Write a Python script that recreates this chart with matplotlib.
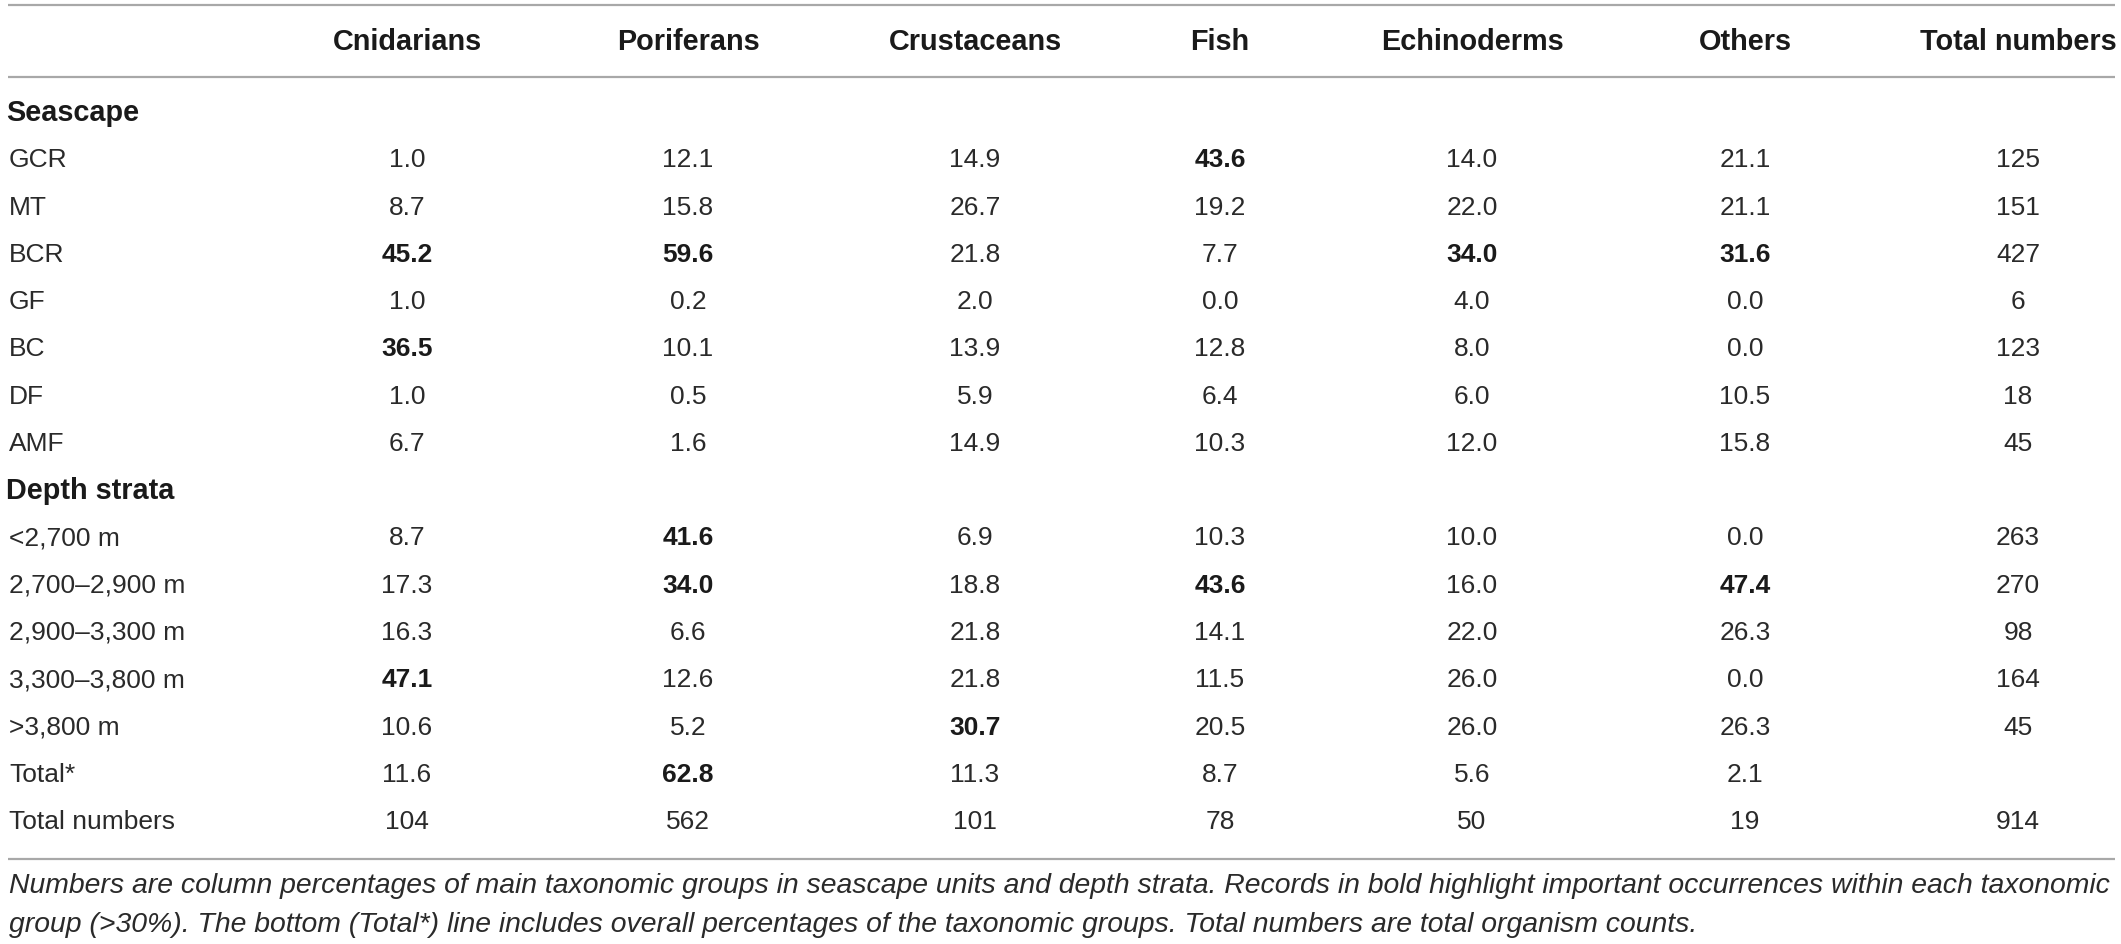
import matplotlib
matplotlib.use('Agg')
import matplotlib.pyplot as plt

# ---------------------------------------------------------------- data
columns = ['Cnidarians', 'Poriferans', 'Crustaceans', 'Fish',
           'Echinoderms', 'Others', 'Total numbers']

seascape_rows = ['GCR', 'MT', 'BCR', 'GF', 'BC', 'DF', 'AMF']
seascape_vals = [
    ['1.0', '12.1', '14.9', '43.6', '14.0', '21.1', '125'],
    ['8.7', '15.8', '26.7', '19.2', '22.0', '21.1', '151'],
    ['45.2', '59.6', '21.8', '7.7', '34.0', '31.6', '427'],
    ['1.0', '0.2', '2.0', '0.0', '4.0', '0.0', '6'],
    ['36.5', '10.1', '13.9', '12.8', '8.0', '0.0', '123'],
    ['1.0', '0.5', '5.9', '6.4', '6.0', '10.5', '18'],
    ['6.7', '1.6', '14.9', '10.3', '12.0', '15.8', '45'],
]
depth_rows = ['<2,700 m', '2,700\u20132,900 m', '2,900\u20133,300 m',
              '3,300\u20133,800 m', '>3,800 m', 'Total*', 'Total numbers']
depth_vals = [
    ['8.7', '41.6', '6.9', '10.3', '10.0', '0.0', '263'],
    ['17.3', '34.0', '18.8', '43.6', '16.0', '47.4', '270'],
    ['16.3', '6.6', '21.8', '14.1', '22.0', '26.3', '98'],
    ['47.1', '12.6', '21.8', '11.5', '26.0', '0.0', '164'],
    ['10.6', '5.2', '30.7', '20.5', '26.0', '26.3', '45'],
    ['11.6', '62.8', '11.3', '8.7', '5.6', '2.1', ''],
    ['104', '562', '101', '78', '50', '19', '914'],
]
# (row label, column) pairs printed in bold (>30%)
bold_cells = {('BCR', 0), ('BCR', 1), ('BCR', 4), ('BCR', 5), ('GCR', 3),
              ('BC', 0), ('<2,700 m', 1), ('2,700\u20132,900 m', 1),
              ('2,700\u20132,900 m', 3), ('2,700\u20132,900 m', 5),
              ('3,300\u20133,800 m', 0), ('>3,800 m', 2), ('Total*', 1)}

note = ['Numbers are column percentages of main taxonomic groups in seascape units and depth strata. '
        'Records in bold highlight important occurrences within each taxonomic',
        'group (>30%). The bottom (Total*) line includes overall percentages of the taxonomic groups. '
        'Total numbers are total organism counts.']

# ---------------------------------------------------------------- layout
W, H = 2121, 944
col_x = [407, 688, 975, 1220, 1472, 1745, 2018]
x_left, x_right = 8, 2115
y_first, dy = 113, 47.27
txt = '#2a2a2a'
fam = ['Liberation Sans', 'DejaVu Sans']

fig = plt.figure(figsize=(W / 100, H / 100), dpi=100)
ax = fig.add_axes([0, 0, 1, 1])
ax.set_xlim(0, W); ax.set_ylim(H, 0)
ax.axis('off')

for yy in (5, 77, 859):
    ax.hlines(yy, x_left, x_right, color='#a8a8a8', linewidth=1.6)

for cx, name in zip(col_x, columns):
    ax.text(cx, 42, name, ha='center', va='center', fontsize=20.8,
            fontweight='bold', family=fam, color='#1a1a1a')

rows = [('Seascape', None)] + list(zip(seascape_rows, seascape_vals)) \
     + [('Depth strata', None)] + list(zip(depth_rows, depth_vals))
for i, (label, vals) in enumerate(rows):
    yy = y_first + i * dy
    if vals is None:
        ax.text(6, yy, label, ha='left', va='center', fontsize=20.8,
                fontweight='bold', family=fam, color='#1a1a1a')
        continue
    ax.text(9, yy, label, ha='left', va='center', fontsize=19,
            family=fam, color=txt)
    for j, v in enumerate(vals):
        b = (label, j) in bold_cells
        ax.text(col_x[j], yy, v, ha='center', va='center', fontsize=19,
                fontweight='bold' if b else 'normal', family=fam,
                color='#1a1a1a' if b else txt)

for k, line in enumerate(note):
    ax.text(9, 886 + k * 39, line, ha='left', va='center', fontsize=20.4,
            style='italic', family=fam, color=txt)

fig.savefig('out.png', dpi=100)
